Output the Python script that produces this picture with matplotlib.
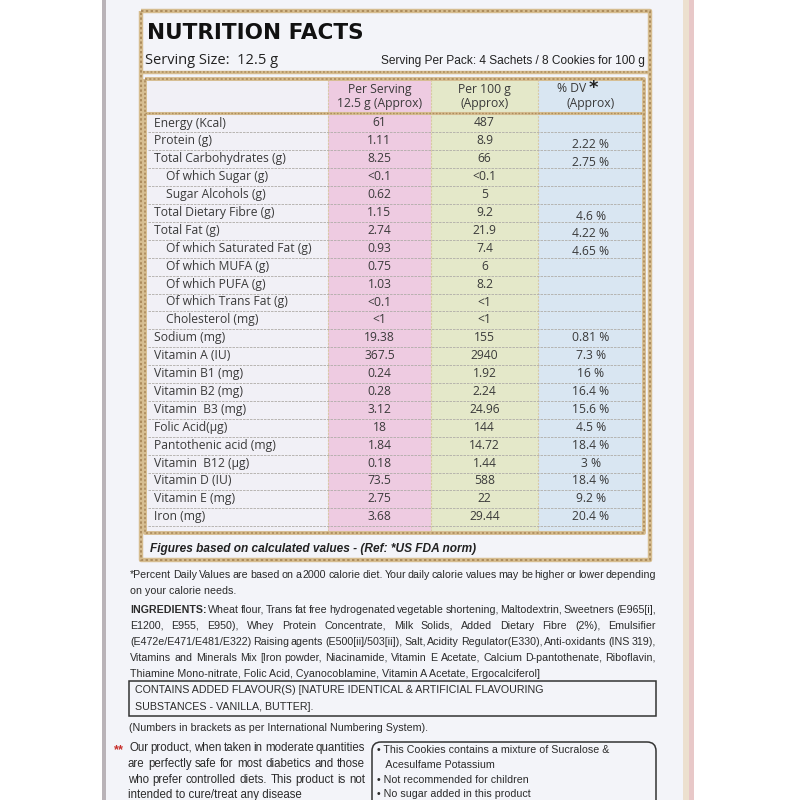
import matplotlib
matplotlib.use("Agg")
import matplotlib.pyplot as plt
from matplotlib.patches import Rectangle, FancyBboxPatch
from matplotlib import font_manager as fm

# ---------------- data ----------------
nutrients = ["Energy (Kcal)", "Protein (g)", "Total Carbohydrates (g)", "Of which Sugar (g)",
             "Sugar Alcohols (g)", "Total Dietary Fibre (g)", "Total Fat (g)",
             "Of which Saturated Fat (g)", "Of which MUFA (g)", "Of which PUFA (g)",
             "Of which Trans Fat (g)", "Cholesterol (mg)", "Sodium (mg)", "Vitamin A (IU)",
             "Vitamin B1 (mg)", "Vitamin B2 (mg)", "Vitamin  B3 (mg)", "Folic Acid(\u00b5g)",
             "Pantothenic acid (mg)", "Vitamin  B12 (\u00b5g)", "Vitamin D (IU)", "Vitamin E (mg)",
             "Iron (mg)"]
indented = [False, False, False, True, True, False, False, True, True, True, True, True,
            False, False, False, False, False, False, False, False, False, False, False]
per_serving = ["61", "1.11", "8.25", "<0.1", "0.62", "1.15", "2.74", "0.93", "0.75", "1.03",
               "<0.1", "<1", "19.38", "367.5", "0.24", "0.28", "3.12", "18", "1.84", "0.18",
               "73.5", "2.75", "3.68"]
per_100g = ["487", "8.9", "66", "<0.1", "5", "9.2", "21.9", "7.4", "6", "8.2", "<1", "<1",
            "155", "2940", "1.92", "2.24", "24.96", "144", "14.72", "1.44", "588", "22", "29.44"]
pct_dv = ["", "2.22 %", "2.75 %", "", "", "4.6 %", "4.22 %", "4.65 %", "", "", "", "",
          "0.81 %", "7.3 %", "16 %", "16.4 %", "15.6 %", "4.5 %", "18.4 %", "3 %", "18.4 %",
          "9.2 %", "20.4 %"]
col_headers = [("Per Serving", "12.5 g (Approx)"), ("Per 100 g", "(Approx)"), ("% DV", "(Approx)")]

title = "NUTRITION FACTS"
serving_size = "Serving Size:  12.5 g"
serving_pack = "Serving Per Pack: 4 Sachets / 8 Cookies for 100 g"
figures_note = "Figures based on calculated values - (Ref: *US FDA norm)"
dv_note = ["*Percent Daily Values are based on a 2000 calorie diet. Your daily calorie values may be higher or lower depending",
           "on your calorie needs."]
ingredients = ["INGREDIENTS: Wheat flour, Trans fat free hydrogenated vegetable shortening, Maltodextrin, Sweetners (E965[i],",
               "E1200, E955, E950),  Whey Protein Concentrate, Milk Solids, Added Dietary Fibre (2%), Emulsifier",
               "(E472e/E471/E481/E322) Raising agents (E500[ii]/503[ii]), Salt, Acidity Regulator(E330), Anti-oxidants (INS 319),",
               "Vitamins and Minerals Mix [Iron powder, Niacinamide, Vitamin E Acetate, Calcium D-pantothenate, Riboflavin,",
               "Thiamine Mono-nitrate, Folic Acid, Cyanocoblamine, Vitamin A Acetate, Ergocalciferol]"]
flavour = ["CONTAINS ADDED FLAVOUR(S) [NATURE IDENTICAL & ARTIFICIAL FLAVOURING",
           "SUBSTANCES - VANILLA, BUTTER]."]
ins_note = "(Numbers in brackets as per International Numbering System)."
claim = ["Our product, when taken in moderate quantities",
         "are perfectly safe for most diabetics and those",
         "who prefer controlled diets. This product is not",
         "intended to cure/treat any disease"]
bullets = ["\u2022 This Cookies contains a mixture of Sucralose &",
           "   Acesulfame Potassium",
           "\u2022 Not recommended for children",
           "\u2022 No sugar added in this product"]

# ---------------- fonts ----------------
avail = {f.name for f in fm.fontManager.ttflist}
NARROW = ["Liberation Sans Narrow", "Liberation Sans", "DejaVu Sans"] if "Liberation Sans Narrow" in avail \
    else ["Liberation Sans", "DejaVu Sans"]
TAB = ["Open Sans", "DejaVu Sans"]
BOLD = ["Liberation Sans", "DejaVu Sans"]
HEAVY = ["DejaVu Sans"]

# ---------------- figure ----------------
fig = plt.figure(figsize=(8, 8), dpi=100)
ax = fig.add_axes([0, 0, 1, 1])
ax.set_xlim(0, 800)
ax.set_ylim(800, 0)
ax.axis("off")
fig.patch.set_facecolor("white")
renderer = fig.canvas.get_renderer()

# package
ax.add_patch(Rectangle((104, 0), 580, 800, facecolor="#f3f4f9", edgecolor="none", zorder=0))
ax.add_patch(Rectangle((102, 0), 4, 800, facecolor="#b9b3b8", edgecolor="none", zorder=1))
ax.add_patch(Rectangle((683, 0), 6, 800, facecolor="#ece0cf", edgecolor="none", zorder=1))
ax.add_patch(Rectangle((689, 0), 5, 800, facecolor="#e8c8c8", edgecolor="none", zorder=1))

GOLD = "#d6bd90"
GOLD_D = "#ad8d5e"


def rope_rect(x0, y0, x1, y1, lw=3.0):
    xs = [x0, x1, x1, x0, x0]
    ys = [y0, y0, y1, y1, y0]
    ax.plot(xs, ys, color=GOLD, lw=lw, zorder=5, solid_capstyle="butt")
    ax.plot(xs, ys, color=GOLD_D, lw=lw * 0.45, ls=(0, (1.2, 1.2)), zorder=6)


def rope_line(x0, x1, y, lw=3.0):
    ax.plot([x0, x1], [y, y], color=GOLD, lw=lw, zorder=5)
    ax.plot([x0, x1], [y, y], color=GOLD_D, lw=lw * 0.45, ls=(0, (1.2, 1.2)), zorder=6)


# table geometry
tx0, tx1 = 145, 644
cols = [145, 328, 431, 538, 644]
head_top, head_bot = 79, 113
row_h = 17.9
first_row = 123
n = len(nutrients)
tab_bot = 533

colors = ["#f1f0f6", "#eecbe1", "#e4e8c9", "#d9e6f2"]
for i in range(4):
    ax.add_patch(Rectangle((cols[i], head_top), cols[i + 1] - cols[i], tab_bot - head_top,
                           facecolor=colors[i], edgecolor="none", zorder=2))

# vertical column separators
for xc in cols[1:4]:
    ax.plot([xc, xc], [head_top, tab_bot], color="#d8c9a4", lw=0.8, ls=(0, (2, 1)), zorder=3)

# row separators
for r in range(n):
    yl = first_row + row_h * r + row_h / 2 + 0.5
    ax.plot([tx0 + 3, tx1 - 3], [yl, yl], color="#b0ada8", lw=0.6, ls=(0, (3, 1.2)), zorder=3)

# gold borders
rope_rect(141, 11, 650, 560, lw=3.2)
rope_line(143, 648, 72, lw=2.5)
rope_rect(tx0, head_top, tx1, tab_bot, lw=2.8)
rope_line(tx0, tx1, head_bot, lw=2.2)

TXT = "#3a3a3a"
# title and serving info
ax.text(147, 33, title, fontsize=15.5, fontweight="bold", family=HEAVY, color="#111111",
        va="center", ha="left", zorder=7)
ax.text(145, 60, serving_size, fontsize=10.5, family=TAB, color="#222222", va="center", ha="left", zorder=7)
ax.text(645, 61, serving_pack, fontsize=8.6, family=NARROW, color="#222222", va="center", ha="right", zorder=7)

# column headers
FT = 8.7
for i, (h1, h2) in enumerate(col_headers):
    xc = (cols[i + 1] + cols[i + 2]) / 2
    if i == 2:
        ax.text(586, 89, h1, fontsize=FT, family=TAB, color=TXT, ha="right", va="center", zorder=7)
    else:
        ax.text(xc, 89, h1, fontsize=FT, family=TAB, color=TXT, ha="center", va="center", zorder=7)
    ax.text(xc, 104, h2, fontsize=FT, family=TAB, color=TXT, ha="center", va="center", zorder=7)
ax.text(589, 87.5, "*", fontsize=13, fontweight="bold", family=HEAVY, color="#222222",
        ha="left", va="center", zorder=7)

# rows
for r in range(n):
    y = first_row + row_h * r
    xl = 166 if indented[r] else 154
    ax.text(xl, y, nutrients[r], fontsize=FT, family=TAB, color=TXT, ha="left", va="center", zorder=7)
    ax.text((cols[1] + cols[2]) / 2, y, per_serving[r], fontsize=FT, family=TAB, color=TXT,
            ha="center", va="center", zorder=7)
    ax.text((cols[2] + cols[3]) / 2, y, per_100g[r], fontsize=FT, family=TAB, color=TXT,
            ha="center", va="center", zorder=7)
    dy = 3.5 if r < 8 else 0
    ax.text((cols[3] + cols[4]) / 2, y + dy, pct_dv[r], fontsize=FT, family=TAB, color=TXT,
            ha="center", va="center", zorder=7)

ax.text(150, 549, figures_note, fontsize=8.6, fontweight="bold", fontstyle="italic",
        family=BOLD, color="#222222", ha="left", va="center", zorder=7)


# ---------------- lower text ----------------
def justify(line, y, x0, x1, size, family, color="#2b2b2b", bold_first=0):
    words = line.split()
    objs = []
    for k, w in enumerate(words):
        fw = "bold" if k < bold_first else "normal"
        t = ax.text(0, y, w, fontsize=size, family=family, color=color, fontweight=fw,
                    ha="left", va="center", zorder=7)
        objs.append(t)
    widths = [t.get_window_extent(renderer).width for t in objs]
    gap = (x1 - x0 - sum(widths)) / max(len(words) - 1, 1)
    x = x0
    for t, w in zip(objs, widths):
        t.set_x(x)
        x += w + gap


FS = 7.7
LC = "#2b2b2b"
justify(dv_note[0], 575, 130, 656, FS, NARROW)
ax.text(130, 591, dv_note[1], fontsize=FS, family=NARROW, color=LC, ha="left", va="center", zorder=7)

ys_ing = [610, 626, 642, 658, 674]
for k, line in enumerate(ingredients):
    if k < 4:
        justify(line, ys_ing[k], 130, 656, FS, NARROW, bold_first=1 if k == 0 else 0)
    else:
        ax.text(130, ys_ing[k], line, fontsize=FS, family=NARROW, color=LC, ha="left",
                va="center", zorder=7)

ax.add_patch(Rectangle((129, 681), 527, 35, facecolor="none", edgecolor="#333333", lw=1.1, zorder=7))
ax.text(135, 690, flavour[0], fontsize=FS, family=NARROW, color=LC, ha="left", va="center", zorder=8)
ax.text(135, 707, flavour[1], fontsize=FS, family=NARROW, color=LC, ha="left", va="center", zorder=8)

ax.text(129, 728, ins_note, fontsize=FS, family=NARROW, color=LC, ha="left", va="center", zorder=7)

ax.text(114, 750, "**", fontsize=FS + 1.5, fontweight="bold", family=NARROW, color="#c8302c",
        ha="left", va="center", zorder=7)
ys_claim = [748, 764, 780, 795]
for k, line in enumerate(claim):
    x0 = 129 if k == 0 else 128
    if k < 3:
        justify(line, ys_claim[k], x0, 365, 8.3, NARROW)
    else:
        ax.text(x0, ys_claim[k], line, fontsize=8.3, family=NARROW, color=LC, ha="left",
                va="center", zorder=7)

ax.add_patch(FancyBboxPatch((372, 742), 284, 80, boxstyle="round,pad=0,rounding_size=9",
                            facecolor="none", edgecolor="#333333", lw=1.1, zorder=7))
ys_b = [750, 765, 780, 794]
for k, line in enumerate(bullets):
    ax.text(377, ys_b[k], line, fontsize=FS, family=NARROW, color=LC, ha="left",
            va="center", zorder=8)

fig.savefig("out.png", dpi=100)
